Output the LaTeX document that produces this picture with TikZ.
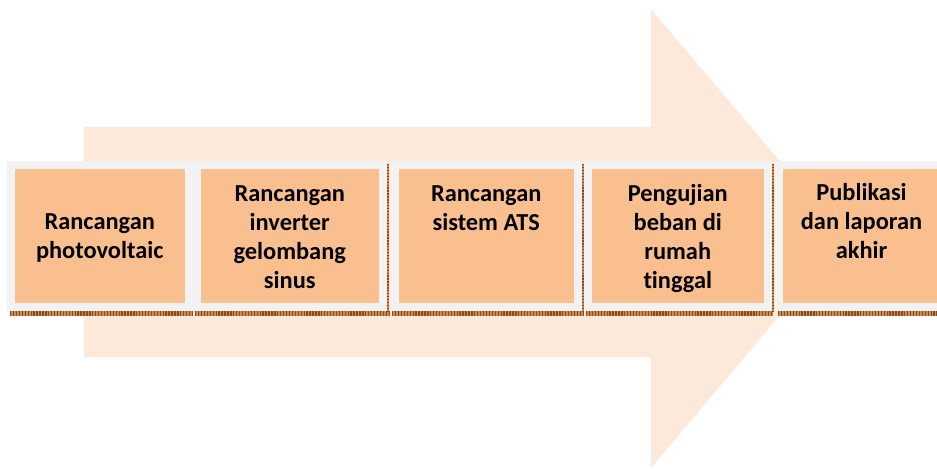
\documentclass[tikz,border=0pt]{standalone}
\usepackage{fontspec}
\setmainfont{Carlito}[RawFeature={-liga}]
\usetikzlibrary{calc}
\definecolor{boxfill}{HTML}{F9BF8F}
\definecolor{boxframe}{HTML}{F2F2F2}
\definecolor{arrowfill}{HTML}{FDE9D9}
\definecolor{shadowlight}{HTML}{C98A55}
\definecolor{shadowdark}{HTML}{8E4A17}

\begin{document}
\begin{tikzpicture}[x=0.75pt, y=-0.75pt,
  stage/.style={fill=boxfill, draw=boxframe, line width=6pt, inner sep=0pt,
    minimum height=142*0.75pt},
  stagetext/.style={align=center, inner sep=0pt,
    font=\fontsize{18.3}{21.9}\selectfont\bfseries},
  shadowline/.style={line width=#1, shadowlight, postaction={draw, shadowdark, line width=#1, dash pattern=on 1pt off 1.2pt}}]
\clip (0,0) rectangle (937,468);
% big arrow in the back
\fill[arrowfill] (84,127) -- (651,127) -- (651,9) -- (845,238) -- (651,468) -- (651,357) -- (84,357) -- cycle;
% shadows under the boxes
\draw[shadowline=3.5pt] (10,313.5) -- (193,313.5);
\draw[shadowline=3.5pt] (195,313.5) -- (389,313.5);
\draw[shadowline=3.5pt] (392,313.5) -- (584,313.5);
\draw[shadowline=3.5pt] (586,313.5) -- (773,313.5);
\draw[shadowline=3.5pt] (778,313.5) -- (937,313.5);
\foreach \x in {388,583,773} {
 \draw[shadowline=1.5pt] (\x,164) -- (\x,312);
}
% the stages
\node[stage, minimum width=177.5*0.75pt] (b1) at (99.75,236.4) {};
\node[stage, minimum width=186.5*0.75pt] (b2) at (289.75,236.4) {};
\node[stage, minimum width=183.5*0.75pt] (b3) at (486.25,236.4) {};
\node[stage, minimum width=180.5*0.75pt] (b4) at (677.75,236.4) {};
\node[stage, minimum width=165*0.75pt] (b5) at (861.5,236.4) {};
\node[stagetext] (t1) at ($(b1)+(0,2)$) {Rancangan\\photovoltaic};
\node[stagetext, anchor=north] (t2) at (b2 |- 0,185) {Rancangan\\inverter\\gelombang\\sinus};
\node[stagetext, anchor=north] (t3) at (b3 |- 0,185) {Rancangan\\sistem ATS};
\node[stagetext, anchor=north] (t4) at (b4 |- 0,184) {Pengujian\\beban di\\rumah\\tinggal};
\node[stagetext, anchor=north] (t5) at (b5 |- 0,183) {Publikasi\\dan laporan\\akhir};
\end{tikzpicture}
\end{document}
